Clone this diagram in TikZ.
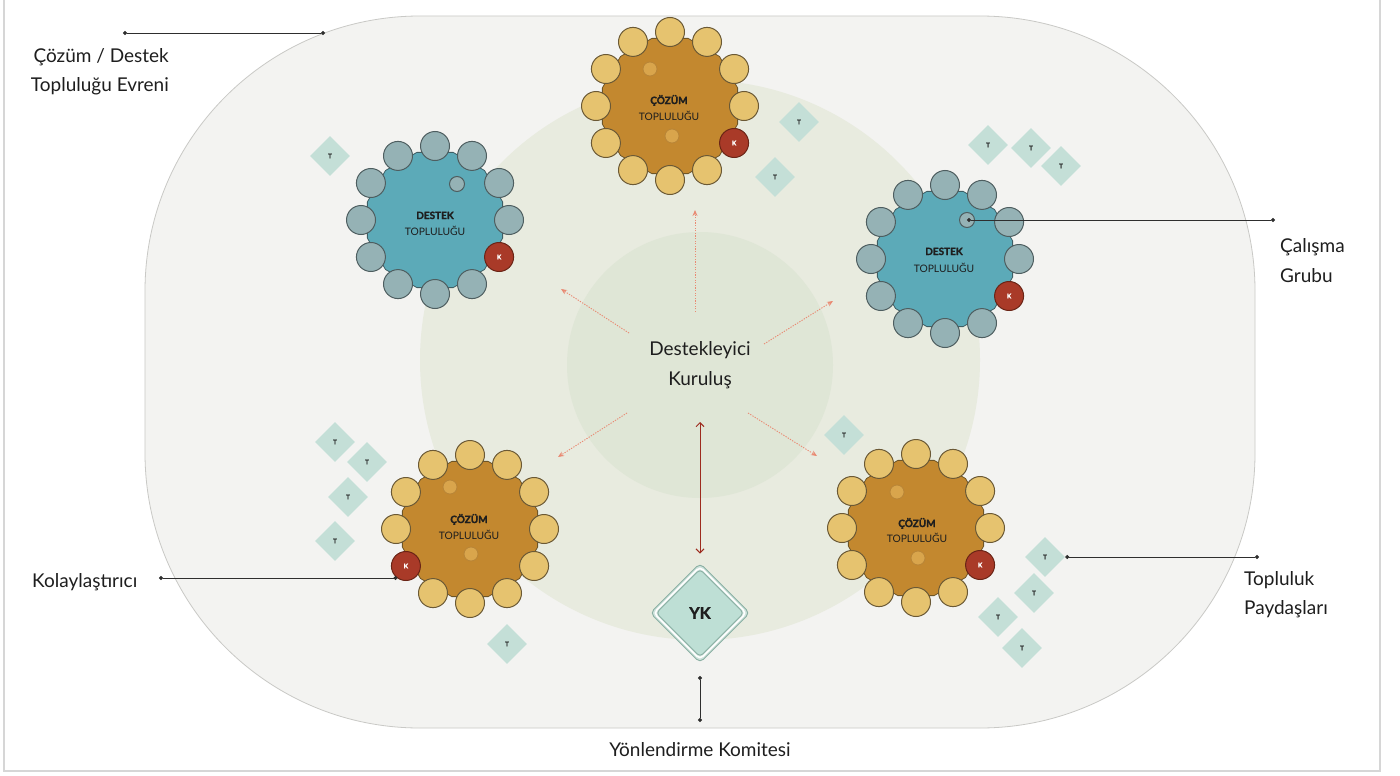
\documentclass[tikz,border=0pt]{standalone}
\usepackage{fontspec}
\setmainfont{Lato}
\newfontfamily\heavylato{Lato}[BoldFeatures={FakeBold=1.6}]
\usetikzlibrary{shapes.geometric,arrows.meta,calc}
\definecolor{colOuter}{HTML}{F3F3F1}
\definecolor{colOuterLine}{HTML}{C9C9C6}
\definecolor{colMid}{HTML}{E8EBDF}
\definecolor{colCore}{HTML}{DFE6D6}
\definecolor{colFrame}{HTML}{D6D6D6}
\definecolor{colCzPoly}{HTML}{C3882F}
\definecolor{colCzPolyLine}{HTML}{6E5526}
\definecolor{colCzSeat}{HTML}{E6C36F}
\definecolor{colCzSeatLine}{HTML}{6B5935}
\definecolor{colCzDot}{HTML}{D9A54C}
\definecolor{colCzDotLine}{HTML}{B88537}
\definecolor{colDsPoly}{HTML}{5CAAB8}
\definecolor{colDsPolyLine}{HTML}{3E5E64}
\definecolor{colDsSeat}{HTML}{95B2B5}
\definecolor{colDsSeatLine}{HTML}{4E5E60}
\definecolor{colK}{HTML}{A93A28}
\definecolor{colKLine}{HTML}{6A2416}
\definecolor{colT}{HTML}{C4DFD7}
\definecolor{colYK}{HTML}{BEDFD5}
\definecolor{colYKBand}{HTML}{CFE3DC}
\definecolor{colYKLine}{HTML}{8AAFA3}
\definecolor{colSalmon}{HTML}{E98A73}
\definecolor{colRed}{HTML}{9D2B1E}
\definecolor{colLab}{HTML}{2E2E2E}
\definecolor{colText}{HTML}{1E1E1E}
\newcommand{\mkcluster}[5]{%
  \begin{scope}[shift={(#2,#3)}]
    \draw[#4poly] (15:70) \foreach \ang in {45,75,...,345}{ -- (\ang:70)} -- cycle;
    \foreach \ang in {0,30,...,330}{%
      \ifnum\ang=#5\relax
        \node[kseat] (#1-k) at (\ang:74) {K};
      \else
        \node[#4seat] (#1-\ang) at (\ang:74) {};
      \fi}
  \end{scope}}
\begin{document}
\begin{tikzpicture}[x=1pt,y=-1pt,
  czpoly/.style={fill=colCzPoly,draw=colCzPolyLine,line width=0.8pt},
  dspoly/.style={fill=colDsPoly,draw=colDsPolyLine,line width=0.8pt},
  seatbase/.style={circle,minimum size=29pt,inner sep=0pt,line width=1pt},
  czseat/.style={seatbase,fill=colCzSeat,draw=colCzSeatLine},
  dsseat/.style={seatbase,fill=colDsSeat,draw=colDsSeatLine},
  kseat/.style={seatbase,fill=colK,draw=colKLine,text=white,font=\heavylato\bfseries\fontsize{6.5}{6.5}\selectfont},
  czdot/.style={circle,minimum size=14pt,inner sep=0pt,fill=colCzDot,draw=colCzDotLine,line width=0.8pt},
  dsdot/.style={circle,minimum size=15pt,inner sep=0pt,fill=colDsSeat,draw=colDsSeatLine,line width=1pt},
  ctitle/.style={font=\heavylato\bfseries\fontsize{10}{10}\selectfont,text=colText,inner sep=0pt,anchor=base},
  csub/.style={font=\fontsize{10.3}{10}\selectfont,text=colText,inner sep=0pt,anchor=base},
  tdia/.style={diamond,minimum size=40pt,inner sep=0pt,fill=colT,text=colText,font=\heavylato\bfseries\fontsize{6.5}{6.5}\selectfont},
  salarrow/.style={draw=colSalmon,line width=0.9pt,dash pattern=on 1.3pt off 1.3pt,-{Stealth[length=6pt,width=5pt]}},
  labline/.style={draw=colLab,line width=0.8pt,{Circle[length=4pt]}-{Circle[length=4pt]}},
  lbl/.style={font=\fontsize{19}{23}\selectfont,text=colText,inner sep=0pt},
]
\useasboundingbox (0,0) rectangle (1400,776);
\fill[white] (0,0) rectangle (1400,776);
\draw[colFrame,line width=1.5pt] (4,-3) rectangle (1380,771);

% universe
\draw[fill=colOuter,draw=colOuterLine,line width=0.8pt,rounded corners=275pt] (145,16) rectangle (1255,728);
\fill[colMid] (700,360) circle[radius=280];
\fill[colCore] (700,365) circle[radius=133];

% radiating arrows
\coordinate (a1s) at (629,333); \coordinate (a1e) at (561,289);
\coordinate (a2s) at (764,344); \coordinate (a2e) at (833,301);
\coordinate (a3s) at (627,413); \coordinate (a3e) at (558,457);
\coordinate (a4s) at (748,413); \coordinate (a4e) at (817,456);
\coordinate (a5s) at (695,312); \coordinate (a5e) at (695,210);
\foreach \i in {1,...,5}{\draw[salarrow] (a\i s) -- (a\i e);}

% clusters
\mkcluster{c1}{670}{106}{cz}{30}
\mkcluster{c2}{435}{220}{ds}{30}
\mkcluster{c3}{945}{259}{ds}{30}
\mkcluster{c4}{470}{529}{cz}{150}
\mkcluster{c5}{916}{528}{cz}{30}

\node[czdot] (c1-d1) at (650,69) {};
\node[czdot] (c1-d2) at (672,136) {};
\node[dsdot] (c2-d1) at (457,184) {};
\node[dsdot] (c3-d1) at (967,220) {};
\node[czdot] (c4-d1) at (450,487) {};
\node[czdot] (c4-d2) at (471,554) {};
\node[czdot] (c5-d1) at (897,492) {};
\node[czdot] (c5-d2) at (918,558) {};

\node[ctitle] (c1-t1) at (669,104) {ÇÖZÜM};
\node[csub] (c1-t2) at (669,120) {TOPLULUĞU};
\node[ctitle] (c2-t1) at (435,219) {DESTEK};
\node[csub] (c2-t2) at (435,235) {TOPLULUĞU};
\node[ctitle] (c3-t1) at (944,255) {DESTEK};
\node[csub] (c3-t2) at (944,272) {TOPLULUĞU};
\node[ctitle] (c4-t1) at (469,523) {ÇÖZÜM};
\node[csub] (c4-t2) at (469,539) {TOPLULUĞU};
\node[ctitle] (c5-t1) at (917,527) {ÇÖZÜM};
\node[csub] (c5-t2) at (917,542) {TOPLULUĞU};

% stakeholders
\node[tdia] (t1) at (330,156) {T};
\node[tdia] (t2) at (799,122) {T};
\node[tdia] (t3) at (775,177) {T};
\node[tdia] (t4) at (988,145) {T};
\node[tdia] (t5) at (1031,148) {T};
\node[tdia] (t6) at (1061,166) {T};
\node[tdia] (t7) at (844,435) {T};
\node[tdia] (t8) at (335,442) {T};
\node[tdia] (t9) at (367,462) {T};
\node[tdia] (t10) at (348,497) {T};
\node[tdia] (t11) at (335,541) {T};
\node[tdia] (t12) at (507,644) {T};
\node[tdia] (t13) at (1045,557) {T};
\node[tdia] (t14) at (1034,593) {T};
\node[tdia] (t15) at (998,617) {T};
\node[tdia] (t16) at (1022,648) {T};

% steering committee
\node[diamond,minimum size=100pt,inner sep=0pt,fill=colYKBand,draw=colYKLine,line width=0.9pt,rounded corners=5pt] (yk) at (700,613) {};
\node[diamond,minimum size=93pt,inner sep=0pt,draw=white,line width=1.6pt,rounded corners=4pt] (yk2) at (yk) {};
\node[diamond,minimum size=88pt,inner sep=0pt,fill=colYK,draw=colYKLine,line width=0.9pt,rounded corners=4pt,text=colText,font=\heavylato\bfseries\fontsize{16}{16}\selectfont] (yk3) at (yk) {YK};

% core label
\node[lbl,anchor=base] (core1) at (700,355) {Destekleyici};
\node[lbl,anchor=base] (core2) at (700,385) {Kuruluş};
\coordinate (redtop) at (700,422);
\draw[colRed,line width=1pt,{Straight Barb[length=4pt,width=8pt]}-{Straight Barb[length=4pt,width=8pt]}] (redtop) -- ($(yk.north)+(0,-9)$);

% label lines
\coordinate (u1) at (123,33); \coordinate (u2) at (325,33);
\draw[labline] (u1) -- (u2);
\coordinate (cg) at (1275,220);
\draw[labline] (c3-d1.center) -- (cg);
\coordinate (kolS) at (159,578);
\draw[labline] (kolS) -- (kolS -| c4-k.236);
\coordinate (tpE) at (1259,557);
\draw[labline] (t13.east) -- (tpE);
\coordinate (yc1) at (700,676); \coordinate (yc2) at (700,722);
\draw[labline] (yc1) -- (yc2);

% labels
\node[lbl,anchor=base east] (l1a) at (169,63) {Çözüm / Destek};
\node[lbl,anchor=base east] (l1b) at (169,92) {Topluluğu Evreni};
\node[lbl,anchor=base west] (l2a) at (1280,252) {Çalışma};
\node[lbl,anchor=base west] (l2b) at (1280,282) {Grubu};
\node[lbl,anchor=base west] (l3) at (32,587) {Kolaylaştırıcı};
\node[lbl,anchor=base west] (l4a) at (1244,585) {Topluluk};
\node[lbl,anchor=base west] (l4b) at (1244,614) {Paydaşları};
\node[lbl,anchor=base] (l5) at (700,756) {Yönlendirme Komitesi};
\end{tikzpicture}
\end{document}
